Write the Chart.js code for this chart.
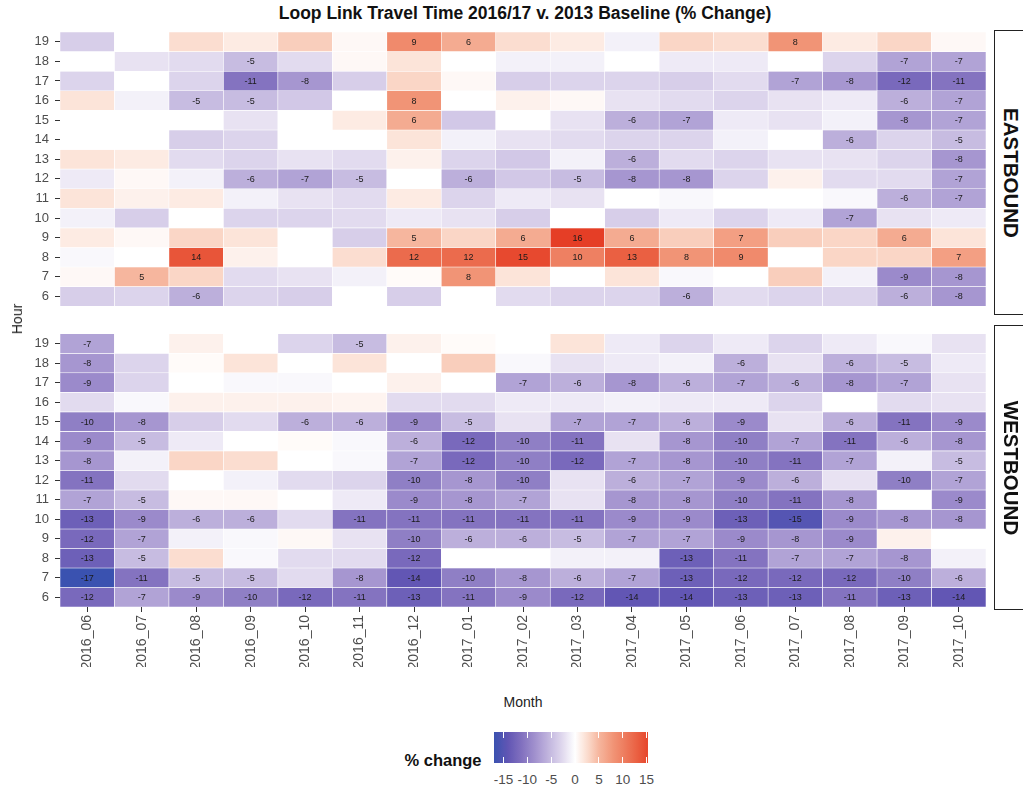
<!DOCTYPE html>
<html>
<head>
<meta charset="utf-8">
<script src="https://cdn.jsdelivr.net/npm/chart.js@4.4.0/dist/chart.umd.min.js"></script>
<style>
  html, body { margin: 0; padding: 0; background: #ffffff; }
  body { width: 1023px; height: 788px; overflow: hidden; position: relative;
         font-family: "Liberation Sans", Arial, sans-serif; }
  canvas { position: absolute; left: 0; }
  .abs { position: absolute; white-space: nowrap; }
  #title { top: 13px; left: 525px; transform: translate(-50%, -50%); font-weight: bold; font-size: 17.5px; color: #111; }
  #ytitle { left: 17px; top: 319px; transform: translate(-50%, -50%) rotate(-90deg); font-size: 14px; color: #222; }
  #xtitle { left: 523px; top: 702px; transform: translate(-50%, -50%); font-size: 14px; color: #222; }
  .strip { position: absolute; left: 994px; width: 40px; border: 1px solid #222; background: #fff; box-sizing: border-box; }
  .strip span { position: absolute; left: 16px; top: 50%; transform: translate(-50%, -50%); writing-mode: vertical-rl;
                font-weight: bold; font-size: 20.5px; color: #111; }
  #legtitle { left: 443px; top: 760px; transform: translate(-50%, -50%); font-weight: bold; font-size: 16.5px; color: #111; }
  #colorbar { position: absolute; left: 494px; top: 732px; width: 154px; height: 31px; }
  .cbtick { position: absolute; width: 1px; height: 6px; background: #fff; }
  .cblab { position: absolute; top: 779px; transform: translate(-50%, -50%); font-size: 13.5px; color: #4d4d4d; }
</style>
</head>
<body>
<div id="title" class="abs">Loop Link Travel Time 2016/17 v. 2013 Baseline (% Change)</div>
<canvas id="east" width="1023" height="320" style="top:0px;width:1023px;height:320px"></canvas>
<canvas id="west" width="1023" height="360" style="top:320px;width:1023px;height:360px"></canvas>
<div id="ytitle" class="abs">Hour</div>
<div id="xtitle" class="abs">Month</div>
<div class="strip" style="top:30px;height:285px"><span>EASTBOUND</span></div>
<div class="strip" style="top:325px;height:285px"><span>WESTBOUND</span></div>
<div id="legtitle" class="abs">% change</div>
<div id="colorbar"></div>
<div id="cblabels"></div>

<script>
// ---------------- DATA ----------------
const months = ["2016_06","2016_07","2016_08","2016_09","2016_10","2016_11","2016_12",
                "2017_01","2017_02","2017_03","2017_04","2017_05","2017_06","2017_07",
                "2017_08","2017_09","2017_10"];
const hours = [19,18,17,16,15,14,13,12,11,10,9,8,7,6];

// % change, one row per hour (19 .. 6), one value per month
const eastbound = [
  [-3.5, 0, 2.5, 1.5, 3.5, 0.5, 9, 6, 2.5, 1.5, -1, 3, 2.5, 8, 1.5, 3, 0.5],
  [0, -2, -2.5, -5, -2.5, 0.5, 2, 0, -1, -1, 0, -1.5, -1.5, 0, -3, -7, -7],
  [-3, 0, -3, -11, -8, -3.5, 3, 0.5, -3.5, -3, -3, -3.5, -2.5, -7, -8, -12, -11],
  [2, -1, -5, -5, -4, 0, 8, 0, 1, 0.5, -2, -2.5, -3, -2, -1.5, -6, -7],
  [0, 0, 0, -2, 0, 1.5, 6, -4, 0, -2, -6, -7, -1.5, -2, -1, -8, -7],
  [0, 0, -3.5, -3, 0, 0, 2, -1, -2, -2.5, -3, -3, -1, 0, -6, -3, -5],
  [2, 1.5, -2.5, -3, -2, -2.5, 1, -3, -4, -1, -6, -2.5, -3, -2, -2, -3, -8],
  [-1.5, 0.5, -1, -6, -7, -5, 0, -6, -4, -5, -8, -8, -3, 1, -2.5, -2.5, -7],
  [2, 1, 1.5, -1, -2, -2.5, 1.5, -3, -1.5, -2, 0, -0.5, 0, 0, -0.5, -6, -7],
  [-1, -3.5, 0, -3, -3, -2.5, -1.5, -2, -3.5, 0, -3.5, -1.5, -3, -1.5, -7, -2, -1.5],
  [1.5, 0.5, 3, 2, 0, -3.5, 5, 3, 6, 16, 6, 3.5, 7, 3.5, 3, 6, 2],
  [-0.5, 0, 14, 1, 0, 2.5, 12, 12, 15, 10, 13, 8, 9, 0, 3, 3, 7],
  [0.5, 5, 3, -2.5, -2, -1, 0.3, 8, 2, 0, 2, -0.5, 0, 3.5, -1, -9, -8],
  [-3.5, -3, -6, -3, -3.5, 0, -3.5, 0, -2.5, -3, -3, -6, -2.5, -3, -3, -6, -8]
];

const westbound = [
  [-7, 0, 1, 0, -3, -5, 1, 0.3, 0, 2, -1.5, -3, -1.5, -3, -1.5, -0.5, -2],
  [-8, -3, 0.3, 2, 0, 2, 0, 3.5, -0.5, -2, -1.5, -1, -6, -2, -6, -5, -1.5],
  [-9, -3, 0, -0.5, -0.5, 0, 1, 0, -7, -6, -8, -6, -7, -6, -8, -7, -2],
  [-2.5, -0.5, 1, 1, 1, 0.8, -2.5, -2.5, -1.5, -1.5, -1, -1.5, -1.5, -3, 0, -2.5, -2],
  [-10, -8, -3.5, -2.5, -6, -6, -9, -5, -2, -7, -7, -6, -9, -2, -6, -11, -9],
  [-9, -5, -1.5, 0, 0.3, -0.5, -6, -12, -10, -11, -2, -8, -10, -7, -11, -6, -8],
  [-8, -1, 3, 2.5, 0, -0.5, -7, -12, -10, -12, -7, -8, -10, -11, -7, -1, -5],
  [-11, -2.5, 0, -1, -2.5, -3, -10, -8, -10, -2, -6, -7, -9, -6, -2, -10, -7],
  [-7, -5, 0.5, 0.5, 0, -1.5, -9, -8, -7, -2, -8, -8, -10, -11, -8, 0, -9],
  [-13, -9, -6, -6, -2.5, -11, -11, -11, -11, -11, -9, -9, -13, -15, -9, -8, -8],
  [-12, -7, -1, -0.5, 0.5, -2, -10, -6, -6, -5, -7, -7, -9, -8, -9, 1, 0],
  [-13, -5, 2.5, -0.5, -2.5, -2.5, -12, 0, 0, -1, -1, -13, -11, -7, -7, -8, -1],
  [-17, -11, -5, -5, -2.5, -8, -14, -10, -8, -6, -7, -13, -12, -12, -12, -10, -6],
  [-12, -7, -9, -10, -12, -11, -13, -11, -9, -12, -14, -14, -13, -13, -11, -13, -14]
];

const legendTicks = [-15, -10, -5, 0, 5, 10, 15];
const legendRange = [-17, 15.3];

// ---------------- COLOURS ----------------
const negStops = [[0,[255,255,255]],[3,[220,212,236]],[5,[199,188,225]],[8,[166,150,208]],
                  [11,[132,115,192]],[14,[98,86,180]],[17,[58,82,176]]];
const posStops = [[0,[255,255,255]],[3,[250,214,198]],[5,[246,182,158]],[8,[241,148,118]],
                  [10,[238,128,98]],[13,[234,96,66]],[16,[229,62,38]]];
function fillFor(v) {
  const stops = v < 0 ? negStops : posStops;
  const a = Math.min(Math.abs(v), stops[stops.length - 1][0]);
  for (let i = 1; i < stops.length; i++) {
    if (a <= stops[i][0]) {
      const [a0, c0] = stops[i - 1], [a1, c1] = stops[i];
      const t = (a - a0) / (a1 - a0);
      const c = c0.map((x, k) => Math.round(x + (c1[k] - x) * t));
      return `rgb(${c[0]},${c[1]},${c[2]})`;
    }
  }
  const c = stops[stops.length - 1][1];
  return `rgb(${c[0]},${c[1]},${c[2]})`;
}

// ---------------- CHARTS ----------------
const FAMILY = '"Liberation Sans", Arial, sans-serif';

const cellLabels = {
  id: 'cellLabels',
  afterDatasetsDraw(chart) {
    const ctx = chart.ctx;
    ctx.save();
    ctx.font = '9px ' + FAMILY;
    ctx.fillStyle = '#1a1a1a';
    ctx.textAlign = 'center';
    ctx.textBaseline = 'middle';
    chart.data.datasets.forEach((ds, di) => {
      const meta = chart.getDatasetMeta(di);
      meta.data.forEach((el, i) => {
        const v = ds.values[i];
        if (Math.abs(v) >= 4.5) {
          const p = el.getCenterPoint();
          ctx.fillText(String(Math.round(v)), p.x, p.y + 0.5);
        }
      });
    });
    ctx.restore();
  }
};

function makePanel(id, values, showX, pad) {
  const datasets = hours.map((h, r) => ({
    data: months.map(() => [h - 0.5, h + 0.5]),
    values: values[r],
    backgroundColor: values[r].map(fillFor),
    borderColor: '#ffffff',
    borderWidth: 0.6,
    borderSkipped: false,
    grouped: false,
    barPercentage: 1,
    categoryPercentage: 1
  }));
  return new Chart(document.getElementById(id), {
    type: 'bar',
    data: { labels: months, datasets },
    options: {
      responsive: false,
      animation: false,
      devicePixelRatio: 1,
      layout: { padding: pad },
      plugins: { legend: { display: false }, tooltip: { enabled: false }, title: { display: false } },
      scales: {
        x: {
          display: showX,
          offset: true,
          grid: { offset: false, drawOnChartArea: false, tickLength: 5, color: '#333333' },
          border: { display: false },
          ticks: { minRotation: 90, maxRotation: 90, autoSkip: false, padding: 3,
                   font: { size: 14, family: FAMILY }, color: '#4d4d4d' },
          afterFit(s) { if (showX) s.height = 60; else s.height = 0; }
        },
        y: {
          min: 5.5, max: 19.5,
          afterBuildTicks(s) { s.ticks = hours.map(v => ({ value: v })); },
          grid: { drawOnChartArea: false, tickLength: 5, color: '#333333' },
          border: { display: false },
          ticks: { autoSkip: false, padding: 6, font: { size: 13, family: FAMILY }, color: '#4d4d4d',
                   callback: v => String(v) },
          afterFit(s) { s.width = 60; }
        }
      }
    },
    plugins: [cellLabels]
  });
}

makePanel('east', eastbound, false, { left: 0, right: 37, top: 32, bottom: 8 });
makePanel('west', westbound, true, { left: 0, right: 37, top: 7, bottom: 13 });

// ---------------- COLOUR BAR LEGEND ----------------
(function () {
  const bar = document.getElementById('colorbar');
  const span = legendRange[1] - legendRange[0];
  const stops = [];
  for (let v = legendRange[0]; v <= legendRange[1] + 1e-9; v += 0.5) {
    stops.push(`${fillFor(v)} ${((v - legendRange[0]) / span * 100).toFixed(2)}%`);
  }
  bar.style.background = `linear-gradient(to right, ${stops.join(', ')})`;
  const labs = document.getElementById('cblabels');
  legendTicks.forEach(t => {
    const x = (t - legendRange[0]) / span * 154;
    const t1 = document.createElement('div'); t1.className = 'cbtick';
    t1.style.left = (x - 0.5) + 'px'; t1.style.top = '0px'; bar.appendChild(t1);
    const t2 = document.createElement('div'); t2.className = 'cbtick';
    t2.style.left = (x - 0.5) + 'px'; t2.style.bottom = '0px'; bar.appendChild(t2);
    const l = document.createElement('div'); l.className = 'cblab';
    l.style.left = (494 + x) + 'px'; l.textContent = String(t); labs.appendChild(l);
  });
})();
</script>
</body>
</html>
